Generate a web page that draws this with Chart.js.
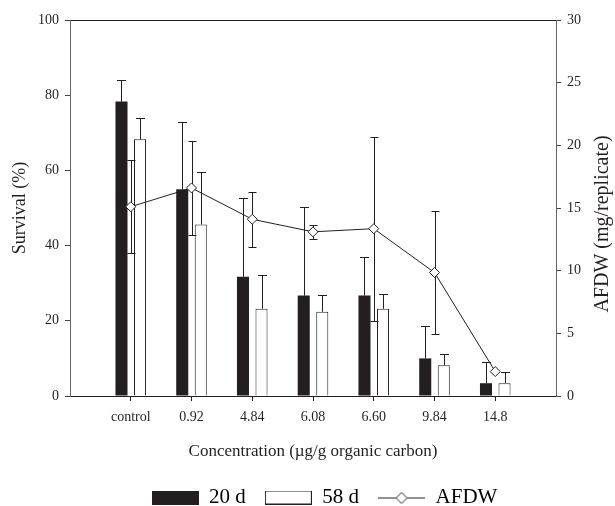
<!DOCTYPE html>
<html>
<head>
<meta charset="utf-8">
<script src="https://cdn.jsdelivr.net/npm/chart.js@4.4.1/dist/chart.umd.min.js"></script>
<style>
  html, body { margin: 0; padding: 0; background: #fff; overflow: hidden; }
  #wrap { position: relative; width: 615px; height: 518px; }
</style>
</head>
<body>
<div id="wrap"><canvas id="chart"></canvas></div>
<script>
// values (survival in %, AFDW in mg/replicate)
const categories = ['control', '0.92', '4.84', '6.08', '6.60', '9.84', '14.8'];
const survival20 = [78.3, 55.0, 31.7, 26.7, 26.7, 10.0, 3.4];
const survival20Err = [5.7, 17.9, 20.9, 23.6, 10.3, 8.7, 5.7];
const survival58 = [68.3, 45.6, 23.2, 22.4, 23.2, 8.2, 3.4];
const survival58Err = [5.7, 14.0, 8.9, 4.5, 3.9, 3.0, 2.9];
const afdw = [15.1, 16.6, 14.1, 13.1, 13.35, 9.85, 1.95];
const afdwErr = [3.7, 3.75, 2.2, 0.55, 7.35, 4.9, 0];
const leftTicks = { min: 0, max: 100, step: 20 };
const rightTicks = { min: 0, max: 30, step: 5 };

const ink = '#231f20';
Chart.defaults.font.family = '"Liberation Serif", "Times New Roman", serif';
Chart.defaults.color = ink;

// empty slot at each end of the category axis
const labels = [''].concat(categories, ['']);
const pad = arr => [null].concat(arr, [null]);

// little pictures for the legend
function mark(kind) {
  const c = document.createElement('canvas');
  c.width = 47;
  c.height = 14;
  const g = c.getContext('2d');
  if (kind === 'solid') {
    g.fillStyle = ink;
    g.fillRect(0, 0, 47, 14);
  } else if (kind === 'open') {
    g.fillStyle = '#fff';
    g.fillRect(0, 0, 47, 14);
    g.strokeStyle = ink;
    g.lineWidth = 1;
    g.strokeRect(0.5, 0.5, 46, 13);
  } else {
    g.strokeStyle = ink;
    g.lineWidth = 1;
    g.beginPath();
    g.moveTo(0, 7.5);
    g.lineTo(47, 7.5);
    g.stroke();
    g.beginPath();
    g.moveTo(23.5, 2);
    g.lineTo(29, 7.5);
    g.lineTo(23.5, 13);
    g.lineTo(18, 7.5);
    g.closePath();
    g.fillStyle = '#fff';
    g.fill();
    g.stroke();
  }
  return c;
}
const legendMarks = [mark('solid'), mark('open'), mark('line')];

function vline(ctx, x, y0, y1) {
  ctx.beginPath();
  ctx.moveTo(x, y0);
  ctx.lineTo(x, y1);
  ctx.stroke();
}
function hline(ctx, x0, x1, y) {
  ctx.beginPath();
  ctx.moveTo(x0, y);
  ctx.lineTo(x1, y);
  ctx.stroke();
}

const errorBars = {
  id: 'errorBars',
  // AFDW whiskers go under the diamonds
  beforeDatasetDraw(chart, args) {
    if (args.index !== 2) return;
    const ctx = chart.ctx;
    const ys = chart.scales.y2;
    const pts = chart.getDatasetMeta(2).data;
    ctx.save();
    ctx.strokeStyle = ink;
    ctx.lineWidth = 1;
    categories.forEach((c, k) => {
      if (!afdwErr[k]) return;
      const x = Math.round(pts[k + 1].x) + 0.5;
      const hi = Math.round(ys.getPixelForValue(afdw[k] + afdwErr[k])) + 0.5;
      const lo = Math.round(ys.getPixelForValue(afdw[k] - afdwErr[k])) + 0.5;
      vline(ctx, x, lo, hi);
      hline(ctx, x - 4, x + 4, hi);
      hline(ctx, x - 4, x + 4, lo);
    });
    ctx.restore();
  },
  // survival whiskers only point up
  afterDatasetDraw(chart, args) {
    if (args.index > 1) return;
    const vals = args.index === 0 ? survival20 : survival58;
    const errs = args.index === 0 ? survival20Err : survival58Err;
    const ctx = chart.ctx;
    const ys = chart.scales.y;
    const bars = chart.getDatasetMeta(args.index).data;
    ctx.save();
    ctx.strokeStyle = ink;
    ctx.lineWidth = 1;
    categories.forEach((c, k) => {
      const bar = bars[k + 1];
      const x = Math.round(bar.x) + 0.5;
      const hi = Math.round(ys.getPixelForValue(vals[k] + errs[k])) + 0.5;
      vline(ctx, x, bar.y, hi);
      hline(ctx, x - 4.5, x + 4.5, hi);
    });
    ctx.restore();
  }
};

// right-hand title reads bottom to top, like the left one
const rightTitle = {
  id: 'rightTitle',
  afterDraw(chart) {
    const s = chart.scales.y2;
    const a = chart.chartArea;
    const ctx = chart.ctx;
    ctx.save();
    ctx.translate(s.right - 12, (a.top + a.bottom) / 2 + 16);
    ctx.rotate(-Math.PI / 2);
    ctx.textAlign = 'center';
    ctx.textBaseline = 'middle';
    ctx.fillStyle = ink;
    ctx.font = '20px "Liberation Serif", serif';
    ctx.fillText('AFDW (mg/replicate)', 0, 0);
    ctx.restore();
  }
};

// legend sits a little right of centre in the original
const legendNudge = {
  id: 'legendNudge',
  afterLayout(chart) {
    chart.legend.left += 17;
    chart.legend.right += 17;
  }
};

const tickGrid = {
  drawOnChartArea: false,
  tickLength: 5,
  color: '#444'
};

new Chart(document.getElementById('chart'), {
  type: 'bar',
  data: {
    labels: labels,
    datasets: [{
      label: '20 d',
      data: pad(survival20),
      backgroundColor: ink,
      borderWidth: 0,
      categoryPercentage: 0.61,
      barPercentage: 0.65,
      yAxisID: 'y',
      order: 1
    }, {
      label: '58 d',
      data: pad(survival58),
      backgroundColor: '#fff',
      borderColor: ink,
      borderWidth: 1,
      categoryPercentage: 0.61,
      barPercentage: 0.65,
      yAxisID: 'y',
      order: 1
    }, {
      type: 'line',
      label: 'AFDW',
      data: pad(afdw),
      yAxisID: 'y2',
      borderColor: ink,
      borderWidth: 1,
      pointStyle: 'rectRot',
      pointRadius: 5,
      pointBackgroundColor: '#fff',
      pointBorderColor: ink,
      pointBorderWidth: 1,
      order: 0
    }]
  },
  options: {
    responsive: true,
    maintainAspectRatio: false,
    animation: false,
    layout: { padding: 0 },
    plugins: {
      tooltip: { enabled: false },
      legend: {
        position: 'bottom',
        labels: {
          usePointStyle: true,
          pointStyleWidth: 47,
          boxHeight: 14,
          padding: 19,
          color: ink,
          font: { size: 21 },
          generateLabels: chart => chart.data.datasets.map((ds, i) => ({
            text: ds.label,
            pointStyle: legendMarks[i],
            datasetIndex: i,
            hidden: false,
            lineWidth: 0,
            fillStyle: 'rgba(0,0,0,0)',
            strokeStyle: 'rgba(0,0,0,0)'
          }))
        }
      }
    },
    scales: {
      x: {
        type: 'category',
        position: 'bottom',
        offset: false,
        grid: {
          offset: false,
          drawOnChartArea: false,
          tickLength: 5,
          color: c => (c.index === 0 || c.index === labels.length - 1) ? 'rgba(0,0,0,0)' : ink
        },
        border: { color: ink },
        ticks: { autoSkip: false, maxRotation: 0, padding: 8, font: { size: 14 } },
        title: {
          display: true,
          text: 'Concentration (µg/g organic carbon)',
          font: { size: 17 },
          padding: { top: 6, bottom: 6 }
        },
        afterFit: s => { s.height = 72; }
      },
      xTop: {
        type: 'category',
        position: 'top',
        offset: false,
        grid: { display: false },
        ticks: { display: false },
        border: { color: ink },
        afterFit: s => { s.height = 20; }
      },
      y: {
        position: 'left',
        min: leftTicks.min,
        max: leftTicks.max,
        ticks: { stepSize: leftTicks.step, padding: 6, font: { size: 14 } },
        grid: tickGrid,
        border: { color: '#666' },
        title: {
          display: true,
          text: 'Survival (%)',
          font: { size: 18 },
          padding: { top: 9, bottom: 9 }
        },
        afterFit: s => { s.width = 70; }
      },
      y2: {
        position: 'right',
        min: rightTicks.min,
        max: rightTicks.max,
        ticks: { stepSize: rightTicks.step, padding: 6, font: { size: 14 } },
        grid: tickGrid,
        border: { color: '#666' },
        afterFit: s => { s.width = 59; }
      }
    }
  },
  plugins: [errorBars, rightTitle, legendNudge]
});
</script>
</body>
</html>
